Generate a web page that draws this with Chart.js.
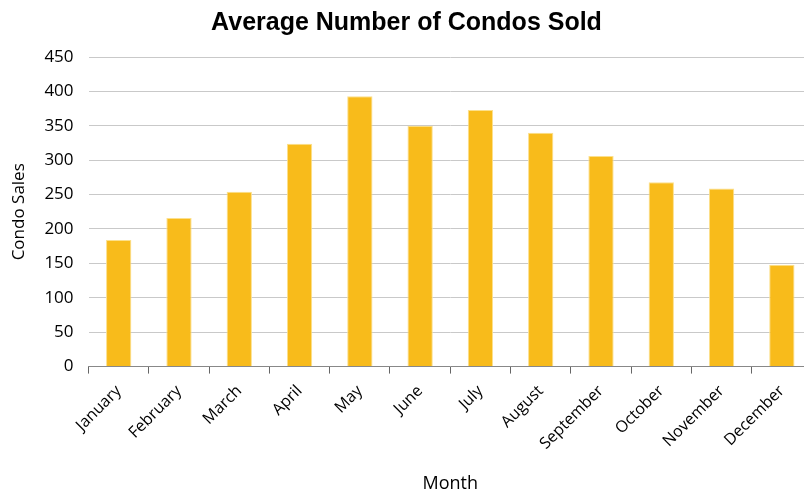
<!DOCTYPE html>
<html>
<head>
<meta charset="utf-8">
<script src="https://cdn.jsdelivr.net/npm/chart.js@4"></script>
<style>
  html, body { margin: 0; padding: 0; background: #fff; overflow: hidden; }
  #wrap { width: 812px; height: 495px; }
</style>
</head>
<body>
<div id="wrap"><canvas id="condoChart"></canvas></div>
<script>
const months = ['January', 'February', 'March', 'April', 'May', 'June',
                'July', 'August', 'September', 'October', 'November', 'December'];
const condoSales = [184, 216, 254, 324, 393, 350, 373, 340, 306, 268, 259, 148];
const yTicks = [0, 50, 100, 150, 200, 250, 300, 350, 400, 450];

const labelFont = "'Open Sans', 'DejaVu Sans', sans-serif";

const chart = new Chart(document.getElementById('condoChart'), {
    type: 'bar',
    data: {
        labels: months,
        datasets: [{
            label: 'Condo Sales',
            data: condoSales,
            backgroundColor: '#F8BB1B',
            borderColor: '#FCE08C',
            borderWidth: 1,
            barPercentage: 0.42,
            categoryPercentage: 1.0
        }]
    },
    options: {
        responsive: true,
        maintainAspectRatio: false,
        animation: false,
        layout: { padding: { left: 1, right: 0, top: 2, bottom: 0 } },
        plugins: {
            legend: { display: false },
            tooltip: { enabled: false },
            title: {
                display: true,
                text: 'Average Number of Condos Sold',
                color: '#000',
                font: { family: "'Liberation Sans', Arial, sans-serif", size: 25, weight: 'bold' },
                padding: { top: 6, bottom: 19 }
            }
        },
        scales: {
            y: {
                min: 0,
                max: 450,
                afterBuildTicks: function (axis) {
                    axis.ticks = yTicks.map(v => ({ value: v }));
                },
                border: { display: false },
                grid: { color: '#c9c9c9', lineWidth: 1, drawTicks: false },
                ticks: {
                    color: '#000',
                    padding: 15,
                    font: { family: labelFont, size: 17 }
                },
                title: {
                    display: true,
                    text: 'Condo Sales',
                    color: '#000',
                    font: { family: labelFont, size: 17 },
                    padding: { top: 8, bottom: 0 }
                }
            },
            x: {
                border: { display: true, color: '#888', width: 1 },
                grid: {
                    offset: true,
                    drawOnChartArea: false,
                    drawTicks: true,
                    tickLength: 7,
                    color: '#666'
                },
                ticks: {
                    color: '#000',
                    maxRotation: 45,
                    minRotation: 45,
                    padding: 8,
                    font: { family: labelFont, size: 16 }
                },
                title: {
                    display: true,
                    text: 'Month',
                    color: '#000',
                    font: { family: labelFont, size: 18 },
                    padding: { top: 12, bottom: 0 }
                }
            }
        }
    }
});
</script>
</body>
</html>
